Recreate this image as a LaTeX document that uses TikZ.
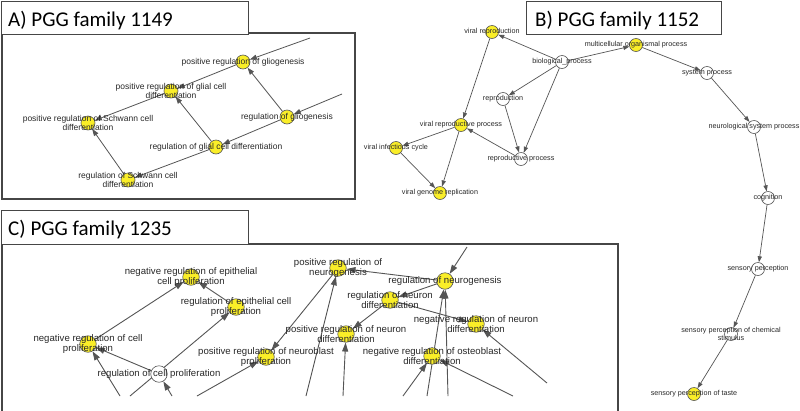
\documentclass[tikz,border=0pt]{standalone}
\usepackage{fontspec}
\newfontfamily\lblfont{Liberation Sans}
\newfontfamily\titlefont{Carlito}
\usetikzlibrary{arrows.meta}
\definecolor{nodeyellow}{RGB}{250,238,40}
\definecolor{edgegray}{RGB}{85,85,85}
\definecolor{textgray}{RGB}{40,40,40}
\definecolor{boxgray}{RGB}{70,70,70}
\pgfdeclarelayer{bglayer}
\pgfdeclarelayer{edgelayer}
\pgfsetlayers{bglayer,edgelayer,main}
\begin{document}
\begin{tikzpicture}[x=1pt,y=-1pt,
  gonode/.style={circle,draw=edgegray,line width=0.6pt,inner sep=0pt,minimum size=14pt},
  yel/.style={gonode,fill=nodeyellow},
  wht/.style={gonode,fill=white},
  yelB/.style={yel,minimum size=13pt},
  whtB/.style={wht,minimum size=13pt},
  yelC/.style={yel,minimum size=16.5pt},
  whtC/.style={wht,minimum size=16.5pt},
  lblA/.style={font=\lblfont\fontsize{8.5}{9.2}\selectfont,text=textgray,align=center,inner sep=0pt},
  lblB/.style={font=\lblfont\fontsize{7.2}{8}\selectfont,text=textgray,align=center,inner sep=0pt},
  lblC/.style={font=\lblfont\fontsize{9.6}{10.4}\selectfont,text=textgray,align=center,inner sep=0pt},
  edgeA/.style={draw=edgegray,line width=0.8pt,-{Triangle[length=7pt,width=5pt]}},
  edgeB/.style={draw=edgegray,line width=0.7pt,-{Triangle[length=6pt,width=4.2pt]}},
  edgeC/.style={draw=edgegray,line width=0.9pt,-{Triangle[length=9pt,width=6pt]}},
  tbox/.style={draw=boxgray,line width=1pt,fill=white,anchor=north west,inner sep=0pt},
  ttext/.style={font=\titlefont\fontsize{21}{24}\selectfont,anchor=base west,inner sep=0pt},
  frame/.style={draw=boxgray,line width=1.2pt}
]
\useasboundingbox (0,0) rectangle (800,410);
\begin{pgfonlayer}{bglayer}
\fill[white] (0,0) rectangle (800,410);
\end{pgfonlayer}

% ---------------- Panel A ----------------
\draw[frame] (2,33) rectangle (355,199);
\node[tbox,minimum width=247pt,minimum height=33pt] (tA) at (0.5,0.5) {};
\node[ttext] (tAt) at (8,26) {A) PGG family 1149};

\node[yel,label={[lblA]center:{positive regulation of gliogenesis}}] (a1) at (243,62) {};
\node[yel,label={[lblA]center:{positive regulation of glial cell\\differentiation}}] (a2) at (171,91) {};
\node[yel,label={[lblA]center:{positive regulation of Schwann cell\\differentiation}}] (a3) at (88,123) {};
\node[yel,label={[lblA]center:{regulation of gliogenesis}}] (a4) at (287,117) {};
\node[yel,label={[lblA]center:{regulation of glial cell differentiation}}] (a5) at (216,147) {};
\node[yel,label={[lblA]center:{regulation of Schwann cell\\differentiation}}] (a6) at (128,180) {};
\coordinate (aIn1) at (310,38);
\coordinate (aIn2) at (342,94);

\begin{pgfonlayer}{edgelayer}
\draw[edgeA] (aIn1) -- (a1);
\draw[edgeA] (aIn2) -- (a4);
\draw[edgeA] (a4) -- (a1);
\draw[edgeA] (a1) -- (a2);
\draw[edgeA] (a4) -- (a5);
\draw[edgeA] (a5) -- (a2);
\draw[edgeA] (a2) -- (a3);
\draw[edgeA] (a5) -- (a6);
\draw[edgeA] (a6) -- (a3);
\end{pgfonlayer}

% ---------------- Panel B ----------------
\node[tbox,minimum width=195pt,minimum height=33.5pt] (tB) at (526,0.5) {};
\node[ttext] (tBt) at (535,26) {B) PGG family 1152};

\node[yelB,label={[lblB]center:{viral reproduction}}] (b1) at (492,32) {};
\node[whtB,label={[lblB]center:{biological\_process}}] (b2) at (562,62) {};
\node[yelB,label={[lblB]center:{multicellular organismal process}}] (b3) at (636,45) {};
\node[whtB,label={[lblB]center:{system process}}] (b4) at (707,73) {};
\node[whtB,label={[lblB]center:{reproduction}}] (b5) at (503,99) {};
\node[yelB,label={[lblB]center:{viral reproductive process}}] (b6) at (461,125) {};
\node[whtB,label={[lblB]center:{neurological system process}}] (b7) at (754,127) {};
\node[yelB,label={[lblB]center:{viral infectious cycle}}] (b8) at (396,148) {};
\node[whtB,label={[lblB]center:{reproductive process}}] (b9) at (521,159) {};
\node[yelB,label={[lblB]center:{viral genome replication}}] (b10) at (440,193) {};
\node[whtB,label={[lblB]center:{cognition}}] (b11) at (768,198) {};
\node[whtB,label={[lblB]center:{sensory perception}}] (b12) at (758,269) {};
\node[whtB,label={[lblB]center:{sensory perception of chemical\\stimulus}}] (b13) at (731,334) {};
\node[yelB,label={[lblB]center:{sensory perception of taste}}] (b14) at (694,394) {};

\begin{pgfonlayer}{edgelayer}
\draw[edgeB] (b2) -- (b1);
\draw[edgeB] (b2) -- (b3);
\draw[edgeB] (b2) -- (b5);
\draw[edgeB] (b2) -- (b9);
\draw[edgeB] (b5) -- (b9);
\draw[edgeB] (b9) -- (b6);
\draw[edgeB] (b1) -- (b6);
\draw[edgeB] (b6) -- (b8);
\draw[edgeB] (b6) -- (b10);
\draw[edgeB] (b8) -- (b10);
\draw[edgeB] (b3) -- (b4);
\draw[edgeB] (b4) -- (b7);
\draw[edgeB] (b7) -- (b11);
\draw[edgeB] (b11) -- (b12);
\draw[edgeB] (b12) -- (b13);
\draw[edgeB] (b13) -- (b14);
\end{pgfonlayer}

% ---------------- Panel C ----------------
\draw[frame] (2,244) -- (618,244) -- (618,411);
\draw[frame] (2,244) -- (2,411);
\node[tbox,minimum width=247.5pt,minimum height=34pt] (tC) at (0.5,210) {};
\node[ttext] (tCt) at (8,235) {C) PGG family 1235};

\node[yelC,label={[lblC]center:{negative regulation of epithelial\\cell proliferation}}] (c1) at (191,277) {};
\node[yelC,label={[lblC]center:{negative regulation of cell\\proliferation}}] (c2) at (88,344) {};
\node[whtC,label={[lblC]center:{regulation of cell proliferation}}] (c3) at (159,374) {};
\node[yelC,label={[lblC]center:{regulation of epithelial cell\\proliferation}}] (c4) at (236,307) {};
\node[yelC,label={[lblC]center:{positive regulation of\\neurogenesis}}] (c5) at (338,268) {};
\node[yelC,label={[lblC]center:{regulation of neurogenesis}}] (c6) at (445,281) {};
\node[yelC,label={[lblC]center:{regulation of neuron\\differentiation}}] (c7) at (390,300) {};
\node[yelC,label={[lblC]center:{positive regulation of neuron\\differentiation}}] (c8) at (346,334) {};
\node[yelC,label={[lblC]center:{positive regulation of neuroblast\\proliferation}}] (c9) at (266,357) {};
\node[yelC,label={[lblC]center:{negative regulation of neuron\\differentiation}}] (c10) at (476,324) {};
\node[yelC,label={[lblC]center:{negative regulation of osteoblast\\differentiation}}] (c11) at (432,356) {};

\coordinate (cIn1) at (120,396);
\coordinate (cIn2) at (130,396);
\coordinate (cIn3) at (172,396);
\coordinate (cIn4) at (197,396);
\coordinate (cIn5) at (306,396);
\coordinate (cIn6) at (343,396);
\coordinate (cIn7) at (403,396);
\coordinate (cIn8) at (427,396);
\coordinate (cIn9) at (448,396);
\coordinate (cIn10) at (513,396);
\coordinate (cIn11) at (547,383);
\coordinate (cTop) at (467,247);

\begin{pgfonlayer}{edgelayer}
\draw[edgeC] (cIn1) -- (c2);
\draw[edgeC] (cIn2) -- (c4);
\draw[edgeC] (cIn3) -- (c3);
\draw[edgeC] (cIn4) -- (c9);
\draw[edgeC] (cIn5) -- (c5);
\draw[edgeC] (cIn6) -- (c8);
\draw[edgeC] (cIn7) -- (c11);
\draw[edgeC] (cIn8) -- (c6);
\draw[edgeC] (cIn9) -- (c6);
\draw[edgeC] (cIn10) -- (c11);
\draw[edgeC] (cIn11) -- (c10);
\draw[edgeC] (cTop) -- (c6);
\draw[edgeC] (c3) -- (c2);
\draw[edgeC] (c2) -- (c1);
\draw[edgeC] (c4) -- (c1);
\draw[edgeC] (c5) -- (c9);
\draw[edgeC] (c6) -- (c5);
\draw[edgeC] (c6) -- (c7);
\draw[edgeC] (c7) -- (c8);
\draw[edgeC] (c7) -- (c10);
\end{pgfonlayer}
\end{tikzpicture}
\end{document}
